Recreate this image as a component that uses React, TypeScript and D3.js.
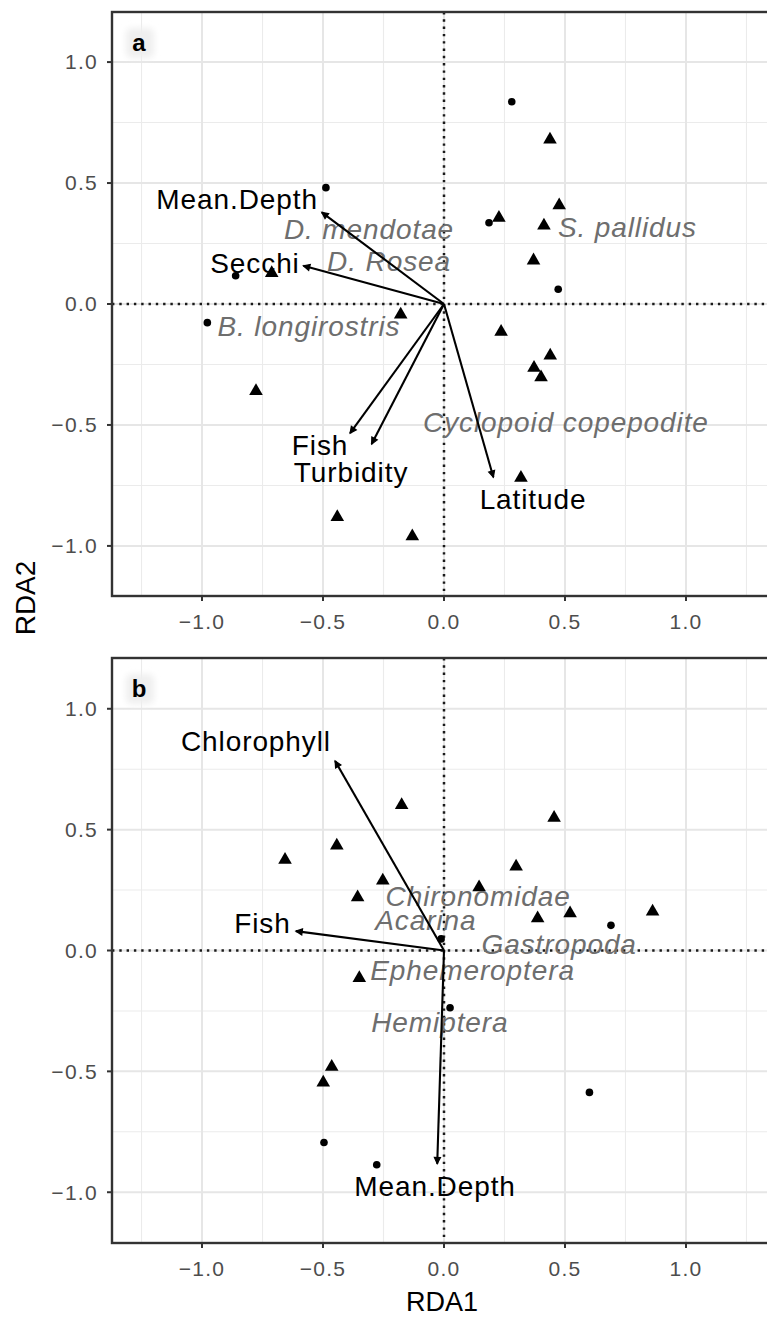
import * as React from "react";
import * as d3 from "d3";

// ---- data ----
type Pt = [number, number];

const majorTicks = [-1, -0.5, 0, 0.5, 1];
const minorTicks = [-1.25, -0.75, -0.25, 0.25, 0.75, 1.25];

// panel a
const aCircles: Pt[] = [
  [0.28, 0.836], [0.186, 0.336], [0.472, 0.061], [-0.488, 0.481], [-0.861, 0.117], [-0.978, -0.077],
];
const aTriangles: Pt[] = [
  [0.438, 0.68], [0.476, 0.408], [0.227, 0.356], [0.413, 0.324], [0.37, 0.18], [-0.712, 0.128],
  [-0.777, -0.36], [-0.441, -0.881], [-0.179, -0.044], [0.236, -0.115], [0.439, -0.213],
  [0.372, -0.264], [0.401, -0.303], [0.318, -0.719], [-0.131, -0.96],
];
const aArrowNames = ["Mean.Depth", "Secchi", "Fish", "Turbidity", "Latitude"];
const aArrowTips: Pt[] = [[-0.505, 0.379], [-0.581, 0.158], [-0.388, -0.534], [-0.299, -0.579], [0.204, -0.716]];
const aArrowLabelPos: Pt[] = [[-0.855, 0.434], [-0.781, 0.169], [-0.512, -0.583], [-0.384, -0.694], [0.368, -0.806]];
const aSpecies = ["D. mendotae", "D. Rosea", "S. pallidus", "B. longirostris", "Cyclopoid copepodite"];
const aSpeciesPos: Pt[] = [[-0.31, 0.31], [-0.227, 0.178], [0.758, 0.319], [-0.558, -0.09], [0.504, -0.488]];

// panel b
const bCircles: Pt[] = [
  [0.69, 0.104], [-0.012, 0.048], [-0.496, -0.794], [-0.278, -0.886], [0.025, -0.237], [0.601, -0.587],
];
const bTriangles: Pt[] = [
  [-0.657, 0.375], [-0.443, 0.434], [-0.253, 0.289], [-0.357, 0.22], [-0.175, 0.602], [0.455, 0.549],
  [0.298, 0.347], [0.145, 0.261], [0.387, 0.133], [0.521, 0.154], [0.862, 0.161], [-0.35, -0.114],
  [-0.464, -0.481], [-0.499, -0.546],
];
const bArrowNames = ["Chlorophyll", "Fish", "Mean.Depth"];
const bArrowTips: Pt[] = [[-0.45, 0.784], [-0.612, 0.08], [-0.028, -0.882]];
const bArrowLabelPos: Pt[] = [[-0.777, 0.866], [-0.75, 0.112], [-0.037, -0.973]];
const bSpecies = ["Chironomidae", "Acarina", "Gastropoda", "Ephemeroptera", "Hemiptera"];
const bSpeciesPos: Pt[] = [[0.141, 0.224], [-0.075, 0.124], [0.476, 0.025], [0.118, -0.083], [-0.017, -0.296]];

const FONT = "'Liberation Sans', Arial, Helvetica, sans-serif";
const W = 767;
const H = 1317;
const LEFT = 112;

const x = d3.scaleLinear().domain([-1.372, 1.372]).range([LEFT, 776]);
const fmt = d3.format(".1f");
const tickLabel = (v: number) => fmt(v).replace("-", "\u2212");

interface PanelProps {
  tag: string;
  top: number;
  bottom: number;
  half: number;
  circles: Pt[];
  triangles: Pt[];
  arrowNames: string[];
  arrowTips: Pt[];
  arrowLabelPos: Pt[];
  species: string[];
  speciesPos: Pt[];
}

function Panel(p: PanelProps) {
  const y = d3.scaleLinear().domain([-p.half, p.half]).range([p.bottom, p.top]);
  const tri = d3.symbol(d3.symbolTriangle, 80)()!;
  const right = x.range()[1];
  const ax = 7; // arrowhead length
  return (
    <g>
      <defs>
        <clipPath id={`clip-${p.tag}`}>
          <rect x={LEFT} y={p.top} width={right - LEFT} height={p.bottom - p.top} />
        </clipPath>
        <filter id={`blur-${p.tag}`} x="-50%" y="-50%" width="200%" height="200%">
          <feGaussianBlur stdDeviation="3" />
        </filter>
      </defs>
      <rect x={LEFT} y={p.top} width={right - LEFT} height={p.bottom - p.top} fill="#fff" />
      {/* grid */}
      {minorTicks.map((t) => (
        <g key={`mn-${t}`} stroke="#ebebeb" strokeWidth={1.1}>
          <line x1={x(t)} x2={x(t)} y1={p.top} y2={p.bottom} />
          {Math.abs(t) < p.half && <line x1={LEFT} x2={right} y1={y(t)} y2={y(t)} />}
        </g>
      ))}
      {majorTicks.map((t) => (
        <g key={`mj-${t}`} stroke="#e6e6e6" strokeWidth={2}>
          <line x1={x(t)} x2={x(t)} y1={p.top} y2={p.bottom} />
          <line x1={LEFT} x2={right} y1={y(t)} y2={y(t)} />
        </g>
      ))}

      {/* tag */}
      <rect x={LEFT + 14} y={p.top + 16} width={28} height={30} rx={6} fill="#efefef" filter={`url(#blur-${p.tag})`} />
      <text x={LEFT + 27} y={p.top + 31} dy="0.35em" textAnchor="middle" fontFamily={FONT} fontWeight="bold" fontSize={24} fill="#000">
        {p.tag}
      </text>

      <g clipPath={`url(#clip-${p.tag})`}>
        {/* zero reference lines */}
        <line x1={LEFT} x2={right} y1={y(0)} y2={y(0)} stroke="#1a1a1a" strokeWidth={2.5} strokeDasharray="2.4 4.9" />
        <line x1={x(0)} x2={x(0)} y1={p.top} y2={p.bottom} stroke="#1a1a1a" strokeWidth={2.5} strokeDasharray="2.4 4.9" />

        {/* sites */}
        {p.circles.map(([cx, cy], i) => (
          <circle key={`c-${i}`} cx={x(cx)} cy={y(cy)} r={3.8} fill="#000" />
        ))}
        {p.triangles.map(([tx, ty], i) => (
          <path key={`t-${i}`} d={tri} transform={`translate(${x(tx)},${y(ty)})`} fill="#000" />
        ))}

        {/* species labels */}
        {p.species.map((s, i) => (
          <text
            key={`s-${s}`}
            x={x(p.speciesPos[i][0])}
            y={y(p.speciesPos[i][1])}
            dy="0.35em"
            textAnchor="middle"
            fontFamily={FONT}
            fontStyle="italic"
            fontSize={28}
            letterSpacing={0.9}
            fill="#6e6e6e"
          >
            {s}
          </text>
        ))}

        {/* environmental arrows */}
        {p.arrowTips.map(([ex, ey], i) => {
          const x0 = x(0), y0 = y(0), x1 = x(ex), y1 = y(ey);
          const ang = Math.atan2(y1 - y0, x1 - x0);
          const a1 = ang + Math.PI - 0.45;
          const a2 = ang + Math.PI + 0.45;
          const head = `M${x1},${y1}L${x1 + ax * Math.cos(a1)},${y1 + ax * Math.sin(a1)}L${x1 + ax * Math.cos(a2)},${y1 + ax * Math.sin(a2)}Z`;
          return (
            <g key={`ar-${i}`}>
              <line x1={x0} y1={y0} x2={x1} y2={y1} stroke="#000" strokeWidth={2.1} />
              <path d={head} fill="#000" stroke="#000" strokeWidth={1.2} />
            </g>
          );
        })}
        {p.arrowNames.map((n, i) => (
          <text
            key={`an-${i}`}
            x={x(p.arrowLabelPos[i][0])}
            y={y(p.arrowLabelPos[i][1])}
            dy="0.35em"
            textAnchor="middle"
            fontFamily={FONT}
            fontSize={28}
            letterSpacing={0.9}
            fill="#000"
          >
            {n}
          </text>
        ))}
      </g>

      {/* border */}
      <rect x={LEFT} y={p.top} width={right - LEFT} height={p.bottom - p.top} fill="none" stroke="#333" strokeWidth={2.4} />

      {/* axes ticks and labels */}
      {majorTicks.map((t) => (
        <g key={`yt-${t}`}>
          <line x1={LEFT - 5} x2={LEFT} y1={y(t)} y2={y(t)} stroke="#333" strokeWidth={2} />
          <text x={LEFT - 14} y={y(t)} dy="0.35em" textAnchor="end" fontFamily={FONT} fontSize={21} letterSpacing={1.3} fill="#4d4d4d">
            {tickLabel(t)}
          </text>
        </g>
      ))}
      {majorTicks.map((t) => (
        <g key={`xt-${t}`}>
          <line x1={x(t)} x2={x(t)} y1={p.bottom} y2={p.bottom + 5} stroke="#333" strokeWidth={2} />
          <text x={x(t)} y={p.bottom + 26} dy="0.35em" textAnchor="middle" fontFamily={FONT} fontSize={21} letterSpacing={1.3} fill="#4d4d4d">
            {tickLabel(t)}
          </text>
        </g>
      ))}
    </g>
  );
}

export default function App() {
  return (
    <svg
      width={W}
      height={H}
      viewBox={`0 0 ${W} ${H}`}
      style={{ position: "absolute", left: 0, top: 0, background: "#fff" }}
    >
      <rect width={W} height={H} fill="#fff" />
      <Panel
        tag="a"
        top={12}
        bottom={596}
        half={1.207}
        circles={aCircles}
        triangles={aTriangles}
        arrowNames={aArrowNames}
        arrowTips={aArrowTips}
        arrowLabelPos={aArrowLabelPos}
        species={aSpecies}
        speciesPos={aSpeciesPos}
      />
      <Panel
        tag="b"
        top={658}
        bottom={1243}
        half={1.21}
        circles={bCircles}
        triangles={bTriangles}
        arrowNames={bArrowNames}
        arrowTips={bArrowTips}
        arrowLabelPos={bArrowLabelPos}
        species={bSpecies}
        speciesPos={bSpeciesPos}
      />
      <text x={442} y={1311} textAnchor="middle" fontFamily={FONT} fontSize={27} fill="#000">
        RDA1
      </text>
      <text
        transform="translate(25,598) rotate(-90)"
        dy="0.35em"
        textAnchor="middle"
        fontFamily={FONT}
        fontSize={28}
        fill="#000"
      >
        RDA2
      </text>
    </svg>
  );
}
